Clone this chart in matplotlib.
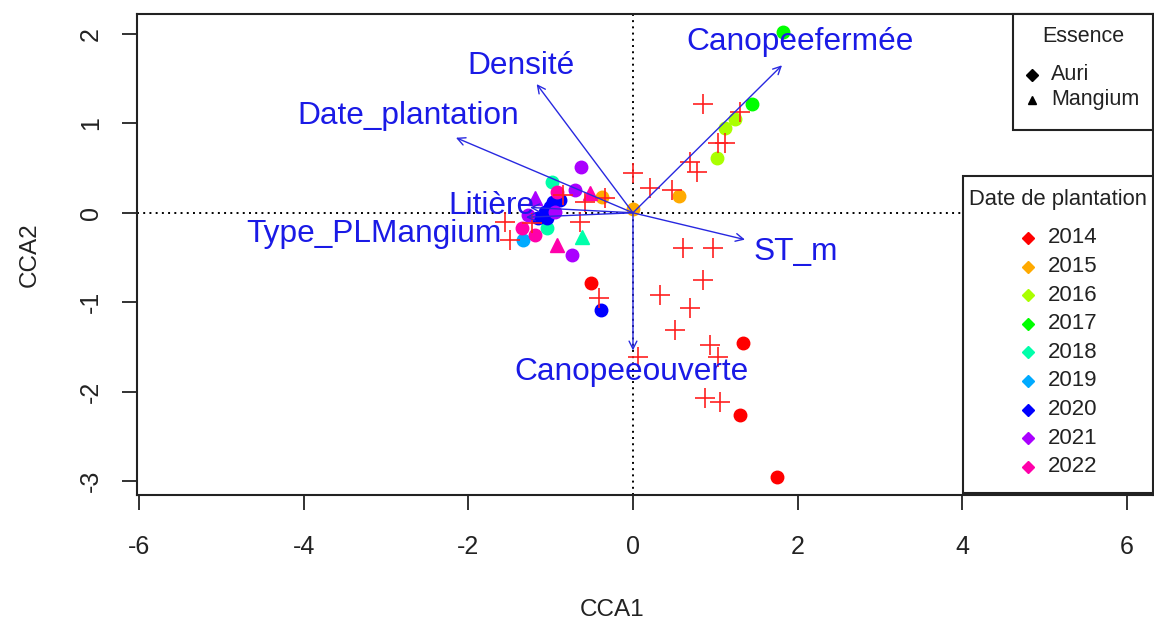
import matplotlib
matplotlib.use("Agg")
import matplotlib.pyplot as plt
from matplotlib.patches import Rectangle
from matplotlib.lines import Line2D

plt.rcParams['font.family'] = ['Liberation Sans', 'DejaVu Sans']

W, H = 1154, 631

# ---------------- data ----------------
years = ["2014", "2015", "2016", "2017", "2018", "2019", "2020", "2021", "2022"]
year_colors = ["#FF0000", "#FFAA00", "#AAFF00", "#00FF00", "#00FFAA",
               "#00AAFF", "#0000FF", "#AA00FF", "#FF00AA"]
essences = ["Auri", "Mangium"]

# site scores: CCA1, CCA2, year, essence
site_x = [-0.51, 1.34, 1.30, 1.75,
          0.56, 0.00, -0.38,
          1.24, 1.12, 1.02,
          1.82, 1.45,
          -0.98, -1.04, -0.62,
          -1.34,
          -0.97, -1.01, -0.89, -1.07, -1.15, -1.04, -0.39,
          -0.63, -0.70, -0.74, -1.28, -0.95, -1.19,
          -0.92, -1.35, -1.19, -0.52, -0.92]
site_y = [-0.79, -1.46, -2.26, -2.96,
          0.19, 0.04, 0.18,
          1.05, 0.95, 0.61,
          2.02, 1.22,
          0.34, -0.17, -0.27,
          -0.30,
          0.12, 0.06, 0.14, 0.01, -0.06, -0.06, -1.09,
          0.51, 0.26, -0.47, -0.02, 0.01, 0.17,
          0.23, -0.17, -0.25, 0.22, -0.36]
site_year = ["2014"] * 4 + ["2015"] * 3 + ["2016"] * 3 + ["2017"] * 2 + \
            ["2018"] * 3 + ["2019"] + ["2020"] * 7 + ["2021"] * 6 + ["2022"] * 5
site_ess = ["Auri"] * 4 + ["Auri"] * 3 + ["Auri"] * 3 + ["Auri"] * 2 + \
           ["Auri", "Auri", "Mangium"] + ["Auri"] + ["Auri"] * 7 + \
           ["Auri"] * 5 + ["Mangium"] + ["Auri"] * 3 + ["Mangium"] * 2

# species scores (red crosses)
sp_x = [0.85, 1.30, 1.03, 1.12, 0.69, 0.78, 0.21, 0.47, 0.00, -0.34,
        0.61, 0.97, 0.85, 0.33, 0.69, 0.51, 0.94, 1.03, 0.06, 0.87, 1.06,
        -0.41, -0.85, -0.58, -1.55, -1.23, -0.64, -1.49]
sp_y = [1.22, 1.13, 0.78, 0.78, 0.57, 0.46, 0.28, 0.26, 0.45, 0.17,
        -0.39, -0.39, -0.75, -0.92, -1.07, -1.31, -1.48, -1.61, -1.61, -2.07, -2.12,
        -0.95, 0.20, 0.12, -0.10, -0.11, -0.10, -0.30]

# environmental vectors (biplot arrows)
env_names = ["Canopeefermée", "Densité", "Date_plantation", "Litière",
             "Type_PLMangium", "ST_m", "Canopeeouverte"]
env_x = [1.81, -1.17, -2.15, -1.25, -1.30, 1.36, 0.00]
env_y = [1.65, 1.44, 0.84, 0.06, -0.05, -0.30, -1.54]
lab_x = [2.03, -1.36, -2.73, -1.72, -3.15, 1.98, -0.02]
lab_y = [1.91, 1.64, 1.08, 0.08, -0.24, -0.44, -1.78]

# ---------------- figure ----------------
fig = plt.figure(figsize=(W / 100, H / 100), dpi=100)
L, R, T, B = 136.5, 1153, 14, 495
ax = fig.add_axes([L / W, 1 - B / H, (R - L) / W, (B - T) / H])
ax.set_xlim(-6.03, 6.316)
ax.set_ylim(-3.157, 2.224)

ax.axhline(0, color="black", ls=(0, (1, 2.2)), lw=1.4, zorder=1)
ax.axvline(0, color="black", ls=(0, (1, 2.2)), lw=1.4, zorder=1)

col_of = dict(zip(years, year_colors))
mk_of = {"Auri": "o", "Mangium": "^"}
ms_of = {"Auri": 9, "Mangium": 10.5}
for x, y, yr, es in zip(site_x, site_y, site_year, site_ess):
    ax.plot(x, y, marker=mk_of[es], ms=ms_of[es], color=col_of[yr],
            mec=col_of[yr], ls="none", zorder=3)

ax.plot(sp_x, sp_y, marker="+", ms=15, mew=1.2, color="#FF2020", ls="none", zorder=4)

for name, x, y, tx, ty in zip(env_names, env_x, env_y, lab_x, lab_y):
    ax.annotate("", xy=(x, y), xytext=(0, 0),
                arrowprops=dict(arrowstyle="->", color="#2828E0", lw=1.0,
                                mutation_scale=14, shrinkA=0, shrinkB=0),
                zorder=5)
    ax.text(tx, ty, name, color="#1A1AE6", fontsize=22.8, ha="center",
            va="center", zorder=6)

ax.set_xticks([-6, -4, -2, 0, 2, 4, 6])
ax.set_xticklabels(["-6", "-4", "-2", "0", "2", "4", "6"])
ax.set_yticks([-3, -2, -1, 0, 1, 2])
ax.set_yticklabels(["-3", "-2", "-1", "0", "1", "2"])
ax.tick_params(direction="out", length=11, width=1.3, labelsize=18,
               colors="#222222")
ax.tick_params(axis="x", pad=18)
ax.tick_params(axis="y", pad=13)
for lab in ax.get_yticklabels():
    lab.set_rotation(90)
    lab.set_va("center")
for s in ax.spines.values():
    s.set_linewidth(1.5)
    s.set_color("#222222")

fig.text(612 / W, 1 - 610 / H, "CCA1", fontsize=17.5, ha="center", va="center",
         color="#222222")
fig.text(30 / W, 1 - 255 / H, "CCA2", fontsize=17.5, ha="center", va="center",
         rotation=90, color="#222222")

# ---------------- legends (drawn in figure pixels) ----------------
def fx(px):
    return px / W


def fy(py):
    return 1 - py / H


def box(x0, y0, x1, y1):
    fig.add_artist(Rectangle((fx(x0), fy(y1)), fx(x1) - fx(x0), fy(y0) - fy(y1),
                             transform=fig.transFigure, facecolor="white",
                             edgecolor="#222222", lw=1.5, zorder=10))


box(1013, 14, 1153, 130)
fig.text(fx(1083), fy(37), "Essence", fontsize=15.5, ha="center", va="center",
         color="#222222", zorder=11)
for i, (es, mk) in enumerate(zip(essences, ["D", "^"])):
    yy = 75 + i * 25
    fig.add_artist(Line2D([fx(1032)], [fy(yy)], marker=mk, ms=6, color="black",
                          transform=fig.transFigure, zorder=11))
    fig.text(fx(1051), fy(yy), es, fontsize=15.5, ha="left", va="center",
             color="#222222", zorder=11)

box(963, 176, 1153, 493)
fig.text(fx(1058), fy(200), "Date de plantation", fontsize=15.8, ha="center",
         va="center", color="#222222", zorder=11)
for i, (yr, c) in enumerate(zip(years, year_colors)):
    yy = 238 + i * 28.6
    fig.add_artist(Line2D([fx(1028)], [fy(yy)], marker="D", ms=6, color=c,
                          transform=fig.transFigure, zorder=11))
    fig.text(fx(1048), fy(yy), yr, fontsize=16, ha="left", va="center",
             color="#222222", zorder=11)

fig.savefig("out.png", dpi=100)
